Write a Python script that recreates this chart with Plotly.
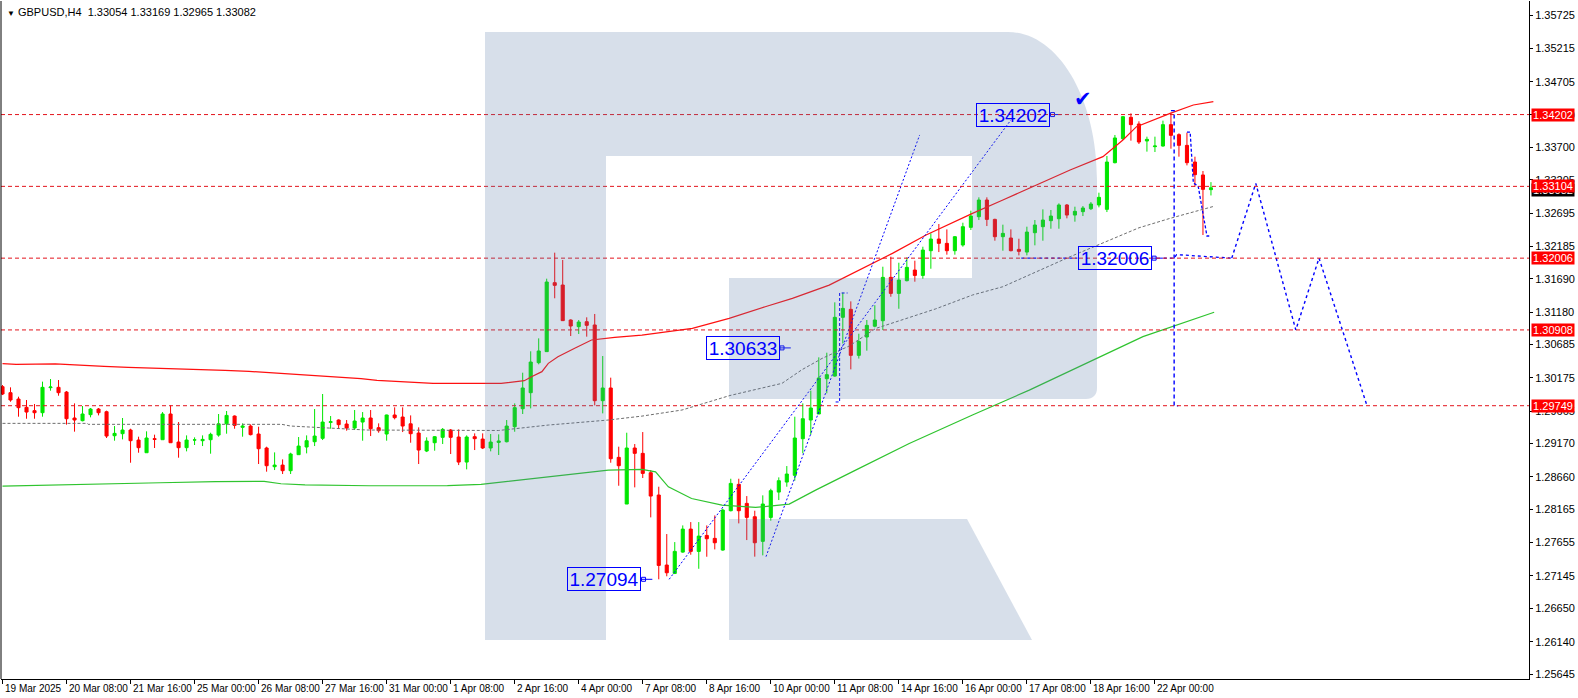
import plotly.graph_objects as go

# ---------------- data ----------------
bar_index = list(range(152))

bar_open = [1.30040, 1.29948, 1.29851, 1.29724, 1.29673, 1.29642, 1.30025, 1.30030, 1.29958, 1.29561,
 1.29520, 1.29612, 1.29698, 1.29657, 1.29290, 1.29321, 1.29377, 1.29224, 1.29030, 1.29245,
 1.29229, 1.29622, 1.29193, 1.29107, 1.29224, 1.29214, 1.29229, 1.29300, 1.29472, 1.29591,
 1.29418, 1.29438, 1.29316, 1.29102, 1.28816, 1.28841, 1.28755, 1.29000, 1.29117, 1.29198,
 1.29250, 1.29494, 1.29530, 1.29469, 1.29408, 1.29499, 1.29561, 1.29413, 1.29316, 1.29607,
 1.29576, 1.29472, 1.29331, 1.29056, 1.29183, 1.29265, 1.29377, 1.29270, 1.28887, 1.29275,
 1.29239, 1.29102, 1.29188, 1.29198, 1.29428, 1.29703, 1.29948, 1.30407, 1.30576, 1.31631,
 1.31595, 1.31060, 1.30958, 1.31034, 1.30984, 1.29826, 1.30020, 1.28959, 1.28245, 1.29102,
 1.29020, 1.28724, 1.28383, 1.27312, 1.27184, 1.27510, 1.27862, 1.27521, 1.27765, 1.27720,
 1.27541, 1.28143, 1.28546, 1.28255, 1.28051, 1.27674, 1.28041, 1.28428, 1.28581, 1.28684,
 1.29244, 1.29530, 1.29622, 1.30162, 1.30202, 1.31101, 1.31223, 1.30519, 1.30800, 1.30965,
 1.31049, 1.31712, 1.31467, 1.31661, 1.31824, 1.31742, 1.32120, 1.32298, 1.32232, 1.32120,
 1.32207, 1.32477, 1.32640, 1.32895, 1.32599, 1.32334, 1.32314, 1.32140, 1.32099, 1.32395,
 1.32487, 1.32579, 1.32609, 1.32819, 1.32665, 1.32717, 1.32762, 1.32819, 1.32752, 1.33466,
 1.33833, 1.34160, 1.34058, 1.33798, 1.33711, 1.33721, 1.34048, 1.33895, 1.33731, 1.33476,
 1.33278, 1.33054]

bar_high = [1.30065, 1.30030, 1.29887, 1.29836, 1.29775, 1.30117, 1.30157, 1.30142, 1.29974, 1.29785,
 1.29744, 1.29714, 1.29714, 1.29673, 1.29438, 1.29561, 1.29397, 1.29275, 1.29357, 1.29306,
 1.29652, 1.29755, 1.29499, 1.29295, 1.29265, 1.29295, 1.29336, 1.29622, 1.29668, 1.29600,
 1.29479, 1.29464, 1.29428, 1.29122, 1.29035, 1.28928, 1.29030, 1.29270, 1.29295, 1.29698,
 1.29928, 1.29591, 1.29540, 1.29530, 1.29683, 1.29652, 1.29683, 1.29479, 1.29612, 1.29724,
 1.29724, 1.29601, 1.29418, 1.29265, 1.29285, 1.29408, 1.29392, 1.29387, 1.29295, 1.29326,
 1.29326, 1.29316, 1.29311, 1.29530, 1.29785, 1.30254, 1.30581, 1.30779, 1.31692, 1.32090,
 1.31978, 1.31070, 1.31060, 1.31101, 1.31152, 1.30509, 1.30178, 1.29122, 1.29336, 1.29163,
 1.29346, 1.28765, 1.28510, 1.27786, 1.27663, 1.27918, 1.27969, 1.27969, 1.27918, 1.28071,
 1.28173, 1.28632, 1.28632, 1.28367, 1.28143, 1.28378, 1.28479, 1.28653, 1.28826, 1.29581,
 1.29785, 1.29979, 1.30489, 1.30560, 1.31330, 1.31478, 1.31345, 1.30850, 1.31060, 1.31286,
 1.31875, 1.32028, 1.31936, 1.32018, 1.31967, 1.32181, 1.32385, 1.32528, 1.32446, 1.32344,
 1.32548, 1.32732, 1.32936, 1.32936, 1.32609, 1.32518, 1.32446, 1.32303, 1.32487, 1.32589,
 1.32752, 1.32742, 1.32844, 1.32834, 1.32793, 1.32803, 1.32864, 1.33007, 1.33568, 1.33890,
 1.34180, 1.34221, 1.34099, 1.33864, 1.33864, 1.34109, 1.34230, 1.33915, 1.33925, 1.33558,
 1.33339, 1.33169]

bar_low = [1.29912, 1.29810, 1.29581, 1.29550, 1.29550, 1.29581, 1.29979, 1.29902, 1.29459, 1.29352,
 1.29510, 1.29571, 1.29601, 1.29255, 1.29214, 1.29234, 1.28877, 1.29030, 1.29030, 1.29102,
 1.29229, 1.29183, 1.28954, 1.29051, 1.29148, 1.29132, 1.29015, 1.29275, 1.29321, 1.29397,
 1.29275, 1.29295, 1.28857, 1.28740, 1.28765, 1.28704, 1.28704, 1.29000, 1.29020, 1.29132,
 1.29224, 1.29397, 1.29397, 1.29367, 1.29377, 1.29214, 1.29285, 1.29336, 1.29214, 1.29540,
 1.29346, 1.29183, 1.28857, 1.29040, 1.29061, 1.29163, 1.29010, 1.28841, 1.28775, 1.29071,
 1.29086, 1.29051, 1.28995, 1.29188, 1.29351, 1.29622, 1.29708, 1.30382, 1.30576, 1.31392,
 1.31045, 1.30815, 1.30846, 1.30805, 1.29754, 1.29632, 1.28877, 1.28525, 1.28245, 1.28500,
 1.28643, 1.28041, 1.27094, 1.27140, 1.27174, 1.27500, 1.27470, 1.27255, 1.27439, 1.27551,
 1.27531, 1.28133, 1.27949, 1.27694, 1.27440, 1.27460, 1.27990, 1.28306, 1.28510, 1.28602,
 1.29020, 1.29306, 1.29622, 1.29938, 1.30193, 1.30700, 1.30305, 1.30470, 1.30591, 1.30948,
 1.30906, 1.31416, 1.31232, 1.31651, 1.31646, 1.31691, 1.31844, 1.32099, 1.32059, 1.32059,
 1.32181, 1.32436, 1.32589, 1.32497, 1.32273, 1.32120, 1.32110, 1.32048, 1.32048, 1.32202,
 1.32273, 1.32456, 1.32456, 1.32615, 1.32564, 1.32650, 1.32742, 1.32783, 1.32711, 1.33456,
 1.33813, 1.33803, 1.33752, 1.33635, 1.33629, 1.33711, 1.33680, 1.33558, 1.33425, 1.33099,
 1.32360, 1.32965]

bar_close = [1.29928, 1.29836, 1.29719, 1.29652, 1.29642, 1.30030, 1.30035, 1.29948, 1.29550, 1.29530,
 1.29622, 1.29698, 1.29642, 1.29285, 1.29326, 1.29377, 1.29214, 1.29107, 1.29255, 1.29234,
 1.29622, 1.29183, 1.29107, 1.29224, 1.29226, 1.29234, 1.29311, 1.29472, 1.29601, 1.29448,
 1.29438, 1.29306, 1.29091, 1.28831, 1.28841, 1.28755, 1.29010, 1.29132, 1.29214, 1.29285,
 1.29499, 1.29504, 1.29459, 1.29408, 1.29515, 1.29561, 1.29397, 1.29367, 1.29607, 1.29566,
 1.29438, 1.29321, 1.29071, 1.29209, 1.29275, 1.29387, 1.29265, 1.28887, 1.29270, 1.29245,
 1.29102, 1.29193, 1.29209, 1.29438, 1.29719, 1.30020, 1.30417, 1.30586, 1.31641, 1.31590,
 1.31050, 1.30968, 1.31029, 1.30978, 1.29826, 1.30020, 1.28938, 1.28831, 1.29102, 1.29020,
 1.28714, 1.28367, 1.27306, 1.27194, 1.27521, 1.27862, 1.27521, 1.27755, 1.27714, 1.27653,
 1.28153, 1.28561, 1.28143, 1.28041, 1.27653, 1.28245, 1.28449, 1.28602, 1.28704, 1.29255,
 1.29550, 1.29714, 1.30173, 1.30224, 1.31101, 1.31238, 1.30519, 1.30730, 1.30978, 1.31060,
 1.31712, 1.31467, 1.31671, 1.31865, 1.31742, 1.32130, 1.32298, 1.32232, 1.32120, 1.32334,
 1.32487, 1.32650, 1.32895, 1.32599, 1.32334, 1.32385, 1.32120, 1.32110, 1.32405, 1.32513,
 1.32589, 1.32650, 1.32819, 1.32665, 1.32722, 1.32773, 1.32834, 1.32936, 1.33476, 1.33844,
 1.34170, 1.34048, 1.33782, 1.33823, 1.33721, 1.34048, 1.33884, 1.33731, 1.33466, 1.33283,
 1.33058, 1.33082]

# moving averages (sampled along the bar index)
ma_red_x = [0, 1.7, 6.6, 7.6, 9.7, 12.7, 15.7, 20.7, 24.7, 27.8, 30.8, 32.8, 34.8, 36.8, 37.8, 39.8,
            41.8, 44.8, 46.8, 48.8, 50.8, 53.8, 62.3, 65.2, 66.1, 67.4, 68.2, 69.4, 71.5, 73.6, 76.5,
            79.9, 86.2, 90.8, 95.3, 98.7, 103.3, 107.1, 111.2, 115.4, 121.2, 125.0, 133.4, 137.5,
            140.0, 141.7, 145.9, 148.8, 151.3]
ma_red_y = [1.30392, 1.30382, 1.30390, 1.30382, 1.30372, 1.30351, 1.30336, 1.30321, 1.30305, 1.30290,
            1.30275, 1.30259, 1.30244, 1.30229, 1.30213, 1.30198, 1.30183, 1.30162, 1.30137, 1.30122,
            1.30106, 1.30091, 1.30091, 1.30132, 1.30193, 1.30270, 1.30397, 1.30499, 1.30627, 1.30754,
            1.30795, 1.30830, 1.30932, 1.31085, 1.31263, 1.31390, 1.31594, 1.31824, 1.32079, 1.32360,
            1.32691, 1.32895, 1.33354, 1.33558, 1.33813, 1.34017, 1.34221, 1.34348, 1.34400]

ma_gray_x = [0, 10.6, 10.7, 34.9, 36.0, 38.5, 41.5, 45.5, 62.0, 68.2, 75.7, 79.9, 84.9, 90.9, 97.4,
             99.9, 102.4, 105.8, 109.1, 116.6, 121.2, 125.0, 133.4, 142.0, 145.9, 151.4]
ma_gray_y = [1.29479, 1.29479, 1.29464, 1.29464, 1.29438, 1.29418, 1.29403, 1.29377, 1.29370, 1.29453,
             1.29530, 1.29590, 1.29683, 1.29905, 1.30091, 1.30300, 1.30472, 1.30662, 1.30930, 1.31230,
             1.31442, 1.31569, 1.32028, 1.32470, 1.32615, 1.32800]

ma_green_x = [0, 6.4, 13.3, 19.7, 26.6, 32.7, 34.8, 37.8, 45.8, 55.6, 59.8, 75.7, 79.9, 81.6, 83.2,
              86.1, 89.9, 94.1, 98.3, 101.6, 106.6, 113.3, 121.2, 128.3, 142.5, 151.4]
ma_green_y = [1.28520, 1.28533, 1.28553, 1.28571, 1.28588, 1.28592, 1.28555, 1.28538, 1.28525, 1.28528,
              1.28546, 1.28765, 1.28774, 1.28738, 1.28509, 1.28330, 1.28228, 1.28193, 1.28244, 1.28458,
              1.28764, 1.29172, 1.29606, 1.29988, 1.30805, 1.31178]

# time axis
tick_index = [0, 8, 16, 24, 32, 40, 48, 56, 64, 72, 80, 88, 96, 104, 112, 120, 128, 136, 144]
tick_dates = ["19 Mar 2025", "20 Mar 08:00", "21 Mar 16:00", "25 Mar 00:00", "26 Mar 08:00",
              "27 Mar 16:00", "31 Mar 00:00", "1 Apr 08:00", "2 Apr 16:00", "4 Apr 00:00",
              "7 Apr 08:00", "8 Apr 16:00", "10 Apr 00:00", "11 Apr 08:00", "14 Apr 16:00",
              "16 Apr 00:00", "17 Apr 08:00", "18 Apr 16:00", "22 Apr 00:00"]

# price axis
price_ticks = [1.35725, 1.35215, 1.34705, 1.34200, 1.33700, 1.33205, 1.32695, 1.32185, 1.31690,
               1.31180, 1.30685, 1.30175, 1.29665, 1.29170, 1.28660, 1.28165, 1.27655, 1.27145,
               1.26650, 1.26140, 1.25645]

level_prices = [1.34202, 1.33104, 1.32006, 1.30908, 1.29749]
current_price = 1.33082

# forecast drawing
trend_up_a_x = [83.3, 126.0]
trend_up_a_y = [1.27094, 1.34119]
trend_up_b_x = [95.4, 114.6]
trend_up_b_y = [1.27440, 1.33890]
mark_apr11_x = [104.1, 104.6, 104.6, 105.6]
mark_apr11_y = [1.29806, 1.29806, 1.31473, 1.31473]
drop_line_x = [146.0, 146.4, 146.4, 146.9]
drop_line_y = [1.34262, 1.34262, 1.29749, 1.29749]
recent_x = [148.0, 148.4, 148.8, 149.4, 150.5, 150.9]
recent_y = [1.33935, 1.33935, 1.33155, 1.33110, 1.32345, 1.32345]
support_left_x = [127.3, 134.3]
support_right_x = [145.1, 146.4, 146.7, 153.6]
support_right_y = [1.32006, 1.32006, 1.32060, 1.32006]
zigzag_x = [153.6, 156.6, 161.6, 164.5, 170.5]
zigzag_y = [1.32006, 1.33150, 1.30908, 1.32006, 1.29749]

label_text = ["1.34202", "1.32006", "1.30633", "1.27094"]
label_right = [130.9, 143.6, 97.1, 79.8]
label_price = [1.34202, 1.32006, 1.30633, 1.27094]
check_x, check_y = 135.0, 1.34440

title_text = "GBPUSD,H4\u00a0\u00a01.33054 1.33169 1.32965 1.33082"

# ---------------- figure ----------------
W, H = 1578, 698
ML, MR, MT, MB = 1, 49, 1, 19
PW, PH = W - ML - MR, H - MT - MB

GREEN = "#00e600"
RED = "#ff0000"
BLUE = "#0000ff"
LEVEL = "#e3141c"
FONT = "Liberation Sans"

fig = go.Figure()

fig.add_trace(go.Candlestick(
    x=bar_index, open=bar_open, high=bar_high, low=bar_low, close=bar_close,
    increasing=dict(line=dict(color=GREEN, width=1), fillcolor=GREEN),
    decreasing=dict(line=dict(color=RED, width=1), fillcolor=RED),
    whiskerwidth=0, hoverinfo="skip", showlegend=False))

fig.add_trace(go.Scatter(x=ma_red_x, y=ma_red_y, mode="lines",
                         line=dict(color="#ff1010", width=1.2), hoverinfo="skip", showlegend=False))
fig.add_trace(go.Scatter(x=ma_gray_x, y=ma_gray_y, mode="lines",
                         line=dict(color="#6e6e6e", width=1, dash="3px,2px"), hoverinfo="skip", showlegend=False))
fig.add_trace(go.Scatter(x=ma_green_x, y=ma_green_y, mode="lines",
                         line=dict(color="#2fc42f", width=1.2), hoverinfo="skip", showlegend=False))

def blue_line(xs, ys, dash="2px,2px", width=1.0):
    fig.add_trace(go.Scatter(x=xs, y=ys, mode="lines", line=dict(color=BLUE, width=width, dash=dash),
                             hoverinfo="skip", showlegend=False))

blue_line(trend_up_a_x, trend_up_a_y)
blue_line(trend_up_b_x, trend_up_b_y)
blue_line(mark_apr11_x, mark_apr11_y, dash="3px,2px")
blue_line(drop_line_x, drop_line_y, dash="4px,3px", width=1.4)
blue_line(recent_x, recent_y, dash="3px,2px", width=1.3)
blue_line(support_left_x, [1.32006, 1.32006], dash="3px,3px", width=1.3)
blue_line(support_right_x, support_right_y, dash="3px,3px", width=1.3)
blue_line(zigzag_x, zigzag_y, dash="3px,3px", width=1.4)

# label connectors
cx, cy = [], []
for r, p in zip(label_right, label_price):
    cx += [r, r + 1.4, None]
    cy += [p, p, None]
fig.add_trace(go.Scatter(x=cx, y=cy, mode="lines", line=dict(color=BLUE, width=1),
                         hoverinfo="skip", showlegend=False))
fig.add_trace(go.Scatter(x=[r + 0.3 for r in label_right], y=label_price, mode="markers",
                         marker=dict(symbol="square-open", size=4, color=BLUE, line=dict(width=1)),
                         hoverinfo="skip", showlegend=False))

# ---------------- shapes ----------------
shapes = []
for p in level_prices:
    shapes.append(dict(type="line", xref="paper", x0=0, x1=1, yref="y", y0=p, y1=p,
                       line=dict(color=LEVEL, width=1, dash="4px,3px"), layer="above"))
shapes.append(dict(type="line", xref="paper", x0=0, x1=0, yref="paper", y0=0, y1=1,
                   line=dict(color="black", width=1), layer="above"))

def px(x):
    return (x - ML) / PW

def py(y):
    return 1 - (y - MT) / PH

def path(points):
    out = []
    for cmd, pts in points:
        out.append(cmd + " ".join("%.5f,%.5f" % (px(a), py(b)) for a, b in pts))
    return " ".join(out) + " Z"

# watermark logo (decoration, in page pixels)
logo_bowl = path([
    ("M", [(485, 32)]), ("L", [(1008, 32)]),
    ("C", [(1058, 32), (1097, 98), (1097, 180)]),
    ("L", [(1097, 388)]),
    ("C", [(1097, 395), (1093, 399), (1086, 399)]),
    ("L", [(729, 399)]), ("L", [(729, 278)]), ("L", [(972, 278)]), ("L", [(972, 156)]),
    ("L", [(606, 156)]), ("L", [(606, 640)]), ("L", [(485, 640)]),
])
logo_leg = path([("M", [(729, 519)]), ("L", [(967, 519)]), ("L", [(1032, 640)]), ("L", [(729, 640)])])
for pth in (logo_bowl, logo_leg):
    shapes.append(dict(type="path", xref="paper", yref="paper", path=pth,
                       fillcolor="rgba(86,123,169,0.24)", line=dict(width=0), layer="above"))

# ---------------- annotations ----------------
ann = []
for i, t in zip(tick_index, tick_dates):
    ann.append(dict(x=i, xref="x", y=0, yref="paper", xanchor="left", yanchor="top",
                    xshift=0, yshift=-2, text=t, showarrow=False,
                    font=dict(family=FONT, size=10, color="black")))

ann.append(dict(x=0, xref="paper", y=1, yref="paper", xanchor="left", yanchor="top",
                xshift=4, yshift=-3, showarrow=False,
                text="<span style='font-size:8px'>\u25bc</span>\u00a0" + title_text,
                font=dict(family=FONT, size=11, color="black")))

for t, r, p in zip(label_text, label_right, label_price):
    ann.append(dict(x=r, xref="x", y=p, yref="y", xanchor="right", yanchor="middle",
                    text=t, showarrow=False, width=70, height=20, borderpad=1,
                    bordercolor=BLUE, borderwidth=1, bgcolor="rgba(0,0,0,0)",
                    font=dict(family=FONT, size=19, color=BLUE)))

ann.append(dict(x=check_x, xref="x", y=check_y, yref="y", text="\u2714", showarrow=False,
                font=dict(family="DejaVu Sans", size=21, color=BLUE)))

# current price (black) box, mostly hidden under the 1.33104 level box
ann.append(dict(x=1, xref="paper", y=current_price, yref="y", xanchor="left", yanchor="middle",
                xshift=2, yshift=-2, text="%.5f" % current_price, showarrow=False,
                width=42, height=12, borderpad=0, bgcolor="black",
                font=dict(family=FONT, size=11, color="white")))
for p in level_prices:
    ann.append(dict(x=1, xref="paper", y=p, yref="y", xanchor="left", yanchor="middle",
                    xshift=2, text="%.5f" % p, showarrow=False,
                    width=42, height=12, borderpad=0, bgcolor="#ff0000",
                    font=dict(family=FONT, size=11, color="white")))

fig.update_layout(
    width=W, height=H, autosize=False,
    margin=dict(l=ML, r=MR, t=MT, b=MB, pad=0, autoexpand=False),
    paper_bgcolor="white", plot_bgcolor="white",
    hovermode=False, showlegend=False, boxgap=0.45,
    shapes=shapes, annotations=ann,
    xaxis=dict(range=[-0.187, 190.74], showgrid=False, zeroline=False, automargin=False,
               tickmode="array", tickvals=tick_index, showticklabels=False,
               ticks="outside", ticklen=4, tickcolor="black", tickwidth=1,
               showline=True, linecolor="black", linewidth=1,
               rangeslider=dict(visible=False), fixedrange=True),
    yaxis=dict(range=[1.25569, 1.359391], side="right", showgrid=False, zeroline=False,
               automargin=False,
               tickmode="array", tickvals=price_ticks, ticktext=["%.5f" % v for v in price_ticks],
               ticks="outside", ticklen=3, tickcolor="black", tickwidth=1,
               tickfont=dict(family=FONT, size=11, color="black"),
               showline=True, linecolor="black", linewidth=1, fixedrange=True),
)

fig.write_html("out.html", config=dict(displayModeBar=False),
               post_script="document.body.style.margin='0';document.body.style.overflow='hidden';")
